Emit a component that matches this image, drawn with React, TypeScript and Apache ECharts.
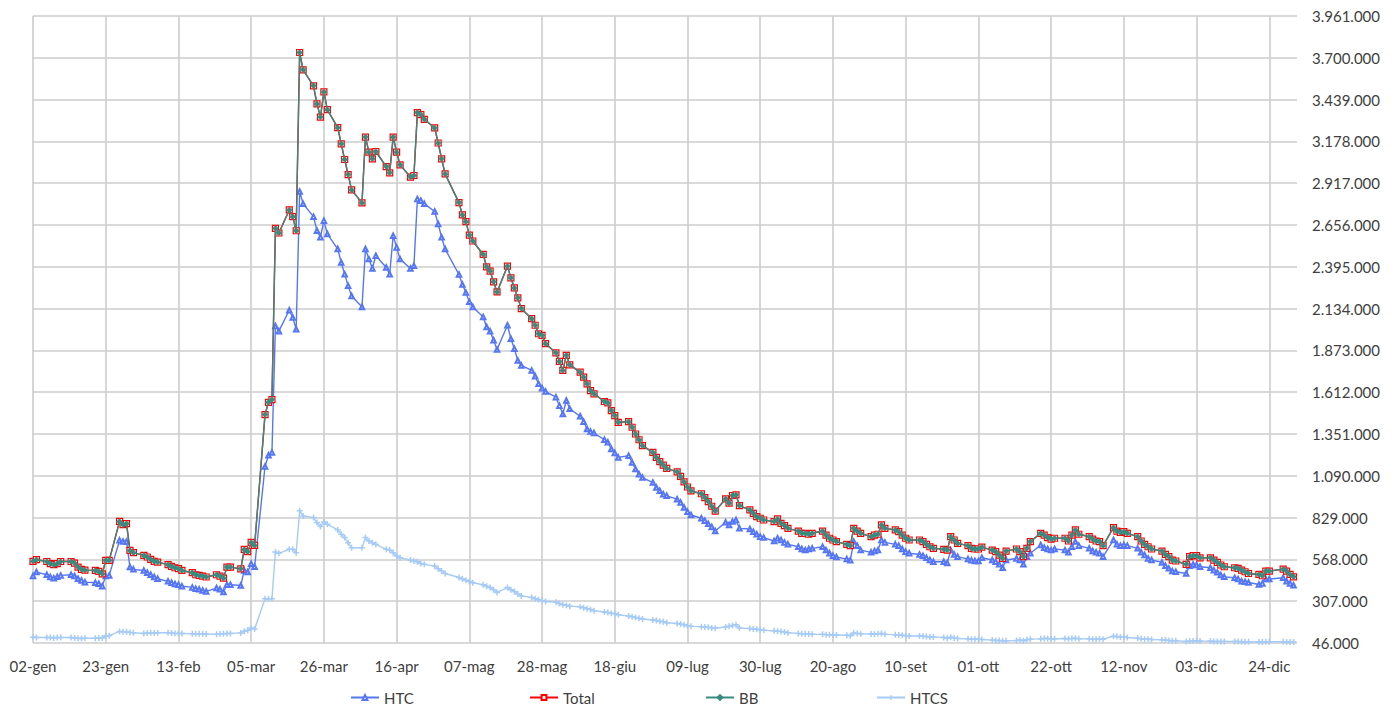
import React, { useEffect, useRef } from "react";
import * as echarts from "echarts";

// ---- axis settings ----
const MONTHS = ["gen", "feb", "mar", "apr", "mag", "giu", "lug", "ago", "set", "ott", "nov", "dic"];
const Y_MIN = 46000;
const Y_MAX = 3961000;
const Y_STEP = 261000;
const X_STEP = 21; // days between date labels
const X_MAX = 365; // days after 02-gen-2020

// ---- data: thousands, one value per working day from Thu 02-gen-2020 (null = no value) ----
const TOTAL: (number | null)[] = [
  556, 566,
  555, 541, 535, 541, 555,
  555, 545, 520, 506, 501,
  499, 493, 478, 562, 562,
  805, 785, 791, 624, 610,
  593, 583, 568, 556, 551,
  535, 524, 516, 510, 499,
  485, 472, 468, 464, 458,
  472, 464, 451, 520, 520,
  509, 630, 616, 674, 655,
  1472, 1549, 1566, 2635, 2606,
  2750, 2708, 2620, 3733, 3625,
  3525, 3412, 3330, 3487, 3376,
  3264, 3163, 3065, 2971, 2875,
  2794, 3205, 3111, 3069, 3115,
  3021, 2982, 3205, 3111, 3032,
  2955, 2965, 3358, 3345, 3316,
  3262, 3168, 3069, 2975, null,
  2796, 2719, 2677, 2593, 2556,
  2472, 2395, 2368, 2301, 2238,
  2399, 2326, 2263, 2201, 2134,
  2071, 2030, 1977, 1967, 1915,
  1858, 1804, 1748, 1842, 1783,
  1737, 1706, 1664, 1622, 1602,
  1554, 1545, 1497, 1466, 1424,
  1428, 1393, 1351, 1315, 1278,
  1236, 1205, 1178, 1157, 1136,
  1115, 1086, 1052, 1020, 996,
  978, 954, 929, 900, 870,
  946, 919, 967, 971, 904,
  877, 856, 835, 825, 814,
  804, 821, 793, 779, 762,
  745, 731, 731, 725, 731,
  745, 720, 700, 689, 679,
  662, 654, 762, 745, 731,
  710, 720, 725, 783, 762,
  752, 741, 720, 700, 689,
  689, 679, 662, 647, 637,
  631, 626, 710, 689, 668,
  654, 637, 633, 633, 645,
  626, 616, 595, 574, 620,
  633, 616, 585, 637, 679,
  731, 720, 704, 695, 700,
  700, 683, 720, 752, 725,
  710, 695, 683, 679, 654,
  766, 745, 737, 741, 731,
  710, 683, 662, 647, 633,
  620, 599, 585, 564, 558,
  537, 585, 591, 591, 578,
  578, 564, 549, 533, 522,
  516, 512, 501, 491, 480,
  474, 466, 495, 495, null,
  507, 495, 474, 459,
];

const HTC: (number | null)[] = [
  464, 489,
  472, 458, 451, 460, 468,
  472, 464, 447, 437, 426,
  422, 416, 401, 464, 468,
  687, 680, 680, 520, 506,
  499, 485, 472, 458, 447,
  431, 422, 414, 410, 401,
  393, 385, 381, 374, 368,
  389, 381, 364, 410, 410,
  405, 499, 489, 541, 522,
  1148, 1219, 1236, 2025, 1993,
  2124, 2078, 2005, 2865, 2788,
  2708, 2620, 2580, 2683, 2600,
  2506, 2422, 2349, 2276, 2213,
  2144, 2506, 2443, 2385, 2464,
  2391, 2349, 2589, 2516, 2443,
  2385, 2401, 2819, 2808, 2788,
  2740, 2662, 2579, 2506, null,
  2347, 2284, 2234, 2176, 2144,
  2082, 2019, 1992, 1936, 1879,
  2030, 1946, 1883, 1810, 1779,
  1748, 1712, 1664, 1637, 1616,
  1581, 1528, 1476, 1560, 1508,
  1462, 1428, 1382, 1366, 1357,
  1315, 1299, 1257, 1232, 1205,
  1215, 1173, 1132, 1100, 1079,
  1048, 1017, 996, 975, 965,
  944, 923, 892, 865, 845,
  825, 810, 790, 770, 745,
  800, 783, 804, 814, 762,
  758, 741, 725, 710, 704,
  683, 700, 689, 674, 662,
  647, 633, 626, 633, 637,
  647, 626, 606, 591, 583,
  570, 562, 679, 654, 626,
  612, 620, 626, 689, 674,
  662, 654, 633, 616, 606,
  599, 591, 578, 564, 553,
  553, 545, 626, 599, 585,
  570, 562, 558, 558, 578,
  564, 554, 537, 516, 564,
  574, 564, 537, 585, 606,
  658, 641, 633, 626, 633,
  626, 612, 647, 679, 654,
  637, 620, 612, 606, 585,
  689, 662, 654, 658, 654,
  637, 612, 595, 574, 564,
  549, 528, 512, 495, 491,
  480, 528, 537, 533, 522,
  516, 501, 487, 470, 459,
  453, 445, 432, 428, 424,
  411, 418, 445, 445, null,
  453, 432, 418, 407,
];

const HTCS: (number | null)[] = [
  82, 80,
  80, 80, 78, 80, 80,
  80, 78, 76, 74, 76,
  76, 78, 78, 90, 92,
  118, 117, 116, 112, 110,
  106, 108, 110, 108, 110,
  110, 108, 106, 106, 106,
  104, 104, 104, 104, 102,
  100, 102, 104, 106, 106,
  109, 119, 125, 140, 134,
  322, 322, 322, 614, 606,
  631, 631, 610, 871, 839,
  829, 798, 773, 802, 787,
  752, 725, 704, 672, 641,
  641, 704, 683, 672, 662,
  631, 627, 610, 589, 579,
  564, 558, 553, 543, 537,
  527, 510, 495, 480, null,
  455, 445, 438, 430, 422,
  410, 400, 392, 378, 362,
  392, 378, 368, 352, 340,
  330, 322, 316, 312, 305,
  300, 292, 285, 282, 276,
  272, 266, 260, 255, 248,
  240, 236, 232, 228, 222,
  214, 210, 206, 200, 196,
  190, 186, 182, 178, 172,
  168, 164, 160, 154, 150,
  148, 146, 144, 140, 138,
  146, 150, 156, 160, 140,
  136, 134, 132, 128, 126,
  122, 120, 118, 114, 110,
  106, 104, 104, 102, 100,
  100, 98, 98, 96, 96,
  94, 92, 108, 106, 104,
  102, 100, 104, 106, 100,
  98, 96, 94, 92, 90,
  90, 88, 86, 84, 84,
  80, 76, 82, 78, 74,
  72, 70, 70, 70, 68,
  64, 62, 62, 60, 60,
  62, 64, 60, 66, 70,
  72, 74, 74, 72, 72,
  74, 72, 74, 76, 72,
  72, 70, 70, 72, 70,
  88, 86, 84, 84, 80,
  76, 72, 70, 70, 68,
  66, 64, 62, 60, 60,
  56, 58, 58, 60, 58,
  58, 56, 56, 56, 56,
  56, 56, 54, 54, 54,
  52, 52, 54, 54, null,
  54, 52, 52, 52,
];

// BB coincides with Total throughout the chart
const BB: (number | null)[] = [...TOTAL];

// working-day offsets (days after 02-gen-2020, a Thursday)
function workdayOffsets(n: number): number[] {
  const out: number[] = [];
  let d = 0;
  let dow = 4;
  for (let i = 0; i < n; i++) {
    out.push(d);
    d++;
    dow = (dow + 1) % 7;
    while (dow === 6 || dow === 0) {
      d++;
      dow = (dow + 1) % 7;
    }
  }
  return out;
}

function toPairs(vals: (number | null)[]) {
  const xs = workdayOffsets(vals.length);
  const out: [number, number][] = [];
  vals.forEach((v, i) => {
    if (v != null) out.push([xs[i], v * 1000]);
  });
  return out;
}

function dayLabel(d: number): string {
  const dt = new Date(Date.UTC(2020, 0, 2 + d));
  const dd = String(dt.getUTCDate()).padStart(2, "0");
  return dd + "-" + MONTHS[dt.getUTCMonth()];
}

function fmtThousands(v: number): string {
  return String(Math.round(v)).replace(/\B(?=(\d{3})+(?!\d))/g, ".");
}

const FONT = "Lato";
const TXT = "#404040";
const GRID = "#cccccc";
const PLUS = "path://M3,0H5V3H8V5H5V8H3V5H0V3H3Z";

export default function App() {
  const ref = useRef<HTMLDivElement>(null);
  useEffect(() => {
    if (!ref.current) return;
    const chart = echarts.init(ref.current, undefined, { renderer: "svg" });
    const legendCommon = {
      top: 690,
      padding: 0,
      itemWidth: 28,
      itemHeight: 6,
      itemGap: 0,
      textStyle: { fontFamily: FONT, fontSize: 15, color: TXT },
    };
    chart.setOption({
      animation: false,
      backgroundColor: "#ffffff",
      grid: { left: 33, right: 97, top: 16, bottom: 63, containLabel: false },
      xAxis: {
        type: "value",
        min: 0,
        max: X_MAX,
        interval: X_STEP,
        axisLine: { show: false },
        axisTick: { show: false },
        axisLabel: {
          fontFamily: FONT,
          fontSize: 15,
          color: TXT,
          margin: 15,
          showMaxLabel: false,
          formatter: (v: number) => dayLabel(v),
        },
        splitLine: { show: true, showMaxLine: false, lineStyle: { color: GRID, width: 1.6 } },
      },
      yAxis: {
        type: "value",
        position: "right",
        min: Y_MIN,
        max: Y_MAX,
        interval: Y_STEP,
        axisLine: { show: false },
        axisTick: { show: false },
        axisLabel: {
          fontFamily: FONT,
          fontSize: 15,
          color: TXT,
          margin: 15,
          formatter: (v: number) => fmtThousands(v),
        },
        splitLine: { show: true, lineStyle: { color: GRID, width: 1.6 } },
      },
      legend: [
        { ...legendCommon, left: 350, data: ["HTC"] },
        { ...legendCommon, left: 529, data: ["Total"] },
        { ...legendCommon, left: 705, data: ["BB"] },
        { ...legendCommon, left: 876, data: ["HTCS"] },
      ],
      series: [
        {
          name: "HTC",
          type: "line",
          data: toPairs(HTC),
          connectNulls: true,
          symbol: "emptyTriangle",
          symbolSize: 4.5,
          lineStyle: { color: "#5576f5", width: 1.4 },
          itemStyle: { color: "#5576f5", borderColor: "#5576f5", borderWidth: 1 },
          z: 2,
        },
        {
          name: "Total",
          type: "line",
          data: toPairs(TOTAL),
          connectNulls: true,
          symbol: "rect",
          symbolSize: 6,
          lineStyle: { color: "#ff0000", width: 1.4 },
          itemStyle: { color: "#ffffff", borderColor: "#ff0000", borderWidth: 1.2 },
          z: 3,
        },
        {
          name: "BB",
          type: "line",
          data: toPairs(BB),
          connectNulls: true,
          symbol: "diamond",
          symbolSize: 6,
          lineStyle: { color: "#3a8a80", width: 1.4 },
          itemStyle: { color: "#3a8a80", borderColor: "#3a8a80", borderWidth: 0.5 },
          z: 4,
        },
        {
          name: "HTCS",
          type: "line",
          data: toPairs(HTCS),
          connectNulls: true,
          symbol: PLUS,
          symbolSize: 6,
          lineStyle: { color: "#a6cbf7", width: 1.4 },
          itemStyle: { color: "#a6cbf7" },
          z: 5,
        },
      ],
    });
    return () => chart.dispose();
  }, []);
  return (
    <div
      ref={ref}
      style={{ position: "absolute", left: 0, top: 0, width: 1394, height: 706, background: "#fff" }}
    />
  );
}
